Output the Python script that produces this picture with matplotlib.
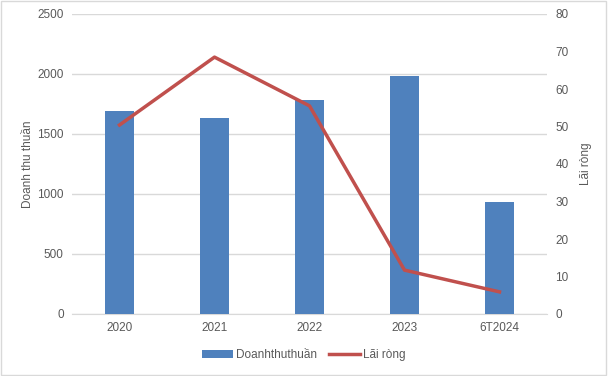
import matplotlib
matplotlib.use('Agg')
from matplotlib import pyplot as plt
from matplotlib.patches import Rectangle

years = ['2020', '2021', '2022', '2023', '6T2024']
revenue = [1692, 1633, 1783, 1983, 933]
profit = [50.4, 68.5, 55.5, 11.7, 5.9]

plt.rcParams['font.family'] = ['Liberation Sans', 'DejaVu Sans']
txt = '#595959'

fig = plt.figure(figsize=(6.08, 3.76), dpi=100)
ax = fig.add_axes([72 / 608, 1 - 314 / 376, 475 / 608, 300 / 376])
ax2 = ax.twinx()

x = list(range(len(years)))
bars = ax.bar(x, revenue, width=0.31, color='#4F81BD', label='Doanhthuthuần', zorder=3)
line, = ax2.plot(x, profit, color='#C0504D', linewidth=2.5, label='Lãi ròng', zorder=4)

ax.set_xlim(-0.5, 4.5)
ax.set_ylim(0, 2500)
ax.set_yticks(range(0, 2501, 500))
ax2.set_ylim(0, 80)
ax2.set_yticks(range(0, 81, 10))
ax.set_xticks(x)
ax.set_xticklabels(years)

ax.grid(axis='y', color='#D9D9D9', linewidth=1, zorder=0)
for a in (ax, ax2):
    for s in a.spines.values():
        s.set_visible(False)
    a.tick_params(length=0, labelsize=8.5, colors=txt, pad=6)
ax.spines['bottom'].set_visible(True)
ax.spines['bottom'].set_color('#D9D9D9')

ax.set_ylabel('Doanh thu thuần', fontsize=8.5, color=txt, labelpad=2)
ax2.set_ylabel('Lãi ròng', fontsize=8.5, color=txt, labelpad=8)

fig.legend([bars, line], ['Doanhthuthuần', 'Lãi ròng'], loc='center',
           bbox_to_anchor=(0.5, 1 - 355 / 376), ncol=2, frameon=False,
           fontsize=8.5, labelcolor=txt, handlelength=2.6, handleheight=0.6,
           columnspacing=1.0, handletextpad=0.3)

fig.patches.append(Rectangle((0.002, 0.003), 0.995, 0.994, transform=fig.transFigure,
                             fill=False, edgecolor='#D9D9D9', linewidth=1))

fig.savefig('out.png', dpi=100)
